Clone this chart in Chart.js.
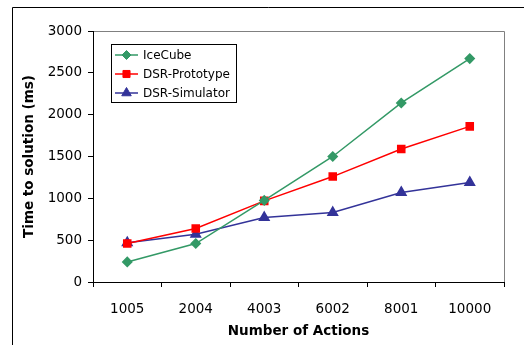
<!DOCTYPE html>
<html><head><meta charset="utf-8">
<script src="https://cdn.jsdelivr.net/npm/chart.js@4/dist/chart.umd.min.js"></script>
<style>html,body{margin:0;padding:0;background:#fff;}#wrap{width:524px;height:345px;position:relative;}</style>
</head><body><div id="wrap"><canvas id="c" width="524" height="345"></canvas></div>
<script>
const categories = ['1005','2004','4003','6002','8001','10000'];
const iceCube = [240, 460, 975, 1500, 2140, 2670];
const dsrPrototype = [460, 640, 970, 1260, 1590, 1860];
const dsrSimulator = [470, 570, 770, 830, 1070, 1190];
const yTicks = [0, 500, 1000, 1500, 2000, 2500, 3000];

const FONT = "'DejaVu Sans', sans-serif";

const framePlugin = {
  id: 'frame',
  beforeDraw(chart) {
    const ctx = chart.ctx;
    ctx.save();
    ctx.fillStyle = '#fff';
    ctx.fillRect(0, 0, chart.width, chart.height);
    ctx.strokeStyle = '#000';
    ctx.lineWidth = 1;
    ctx.beginPath();
    ctx.moveTo(12.5, chart.height);
    ctx.lineTo(12.5, 7.5);
    ctx.lineTo(chart.width, 7.5);
    ctx.stroke();
    const a = chart.chartArea;
    ctx.strokeStyle = '#808080';
    ctx.beginPath();
    ctx.moveTo(a.left, Math.round(a.top) + 0.5);
    ctx.lineTo(Math.round(a.right) + 0.5, Math.round(a.top) + 0.5);
    ctx.lineTo(Math.round(a.right) + 0.5, a.bottom);
    ctx.stroke();
    ctx.restore();
  }
};

const legendPlugin = {
  id: 'boxLegend',
  afterDatasetsDraw(chart) {
    const ctx = chart.ctx;
    const a = chart.chartArea;
    const x0 = Math.round(a.left) + 18, y0 = Math.round(a.top) + 13;
    const w = 125, h = 58;
    ctx.save();
    ctx.fillStyle = '#fff';
    ctx.fillRect(x0, y0, w, h);
    ctx.strokeStyle = '#000';
    ctx.lineWidth = 1;
    ctx.strokeRect(x0 + 0.5, y0 + 0.5, w, h);
    chart.data.datasets.forEach((ds, i) => {
      const cy = y0 + 11 + i * 19;
      ctx.strokeStyle = ds.borderColor;
      ctx.lineWidth = 1.5;
      ctx.beginPath();
      ctx.moveTo(x0 + 4, cy);
      ctx.lineTo(x0 + 27, cy);
      ctx.stroke();
      ctx.fillStyle = ds.pointBackgroundColor;
      ctx.strokeStyle = ds.pointBorderColor;
      ctx.lineWidth = 1;
      Chart.helpers.drawPoint(ctx, {
        pointStyle: ds.pointStyle, radius: ds.pointRadius, borderWidth: 1, rotation: 0
      }, x0 + 15.5, cy);
      ctx.fillStyle = '#000';
      ctx.font = '12px ' + FONT;
      ctx.textBaseline = 'middle';
      ctx.textAlign = 'left';
      ctx.fillText(ds.label, x0 + 32, cy + 1);
    });
    ctx.restore();
  }
};

new Chart(document.getElementById('c'), {
  type: 'line',
  data: {
    labels: categories,
    datasets: [
      { label: 'IceCube', data: iceCube, borderColor: '#339966', backgroundColor: '#339966',
        pointBackgroundColor: '#339966', pointBorderColor: '#339966', pointStyle: 'rectRot',
        pointRadius: 4.5, borderWidth: 1.5, tension: 0 },
      { label: 'DSR-Prototype', data: dsrPrototype, borderColor: '#ff0000', backgroundColor: '#ff0000',
        pointBackgroundColor: '#ff0000', pointBorderColor: '#ff0000', pointStyle: 'rect',
        pointRadius: 5, borderWidth: 1.5, tension: 0 },
      { label: 'DSR-Simulator', data: dsrSimulator, borderColor: '#333399', backgroundColor: '#333399',
        pointBackgroundColor: '#333399', pointBorderColor: '#333399', pointStyle: 'triangle',
        pointRadius: 5.5, borderWidth: 1.5, tension: 0 }
    ]
  },
  options: {
    responsive: false,
    animation: false,
    devicePixelRatio: 1,
    layout: { padding: { left: 0, top: 31, right: 20, bottom: 0 } },
    plugins: { legend: { display: false }, tooltip: { enabled: false } },
    scales: {
      x: {
        offset: true,
        grid: { offset: true, drawOnChartArea: false, drawTicks: true, tickLength: 5, color: '#000' },
        border: { color: '#000', width: 1 },
        ticks: { color: '#000', font: { family: FONT, size: 13.5 }, padding: 14, maxRotation: 0 },
        title: { display: true, text: 'Number of Actions', color: '#000',
          font: { family: FONT, size: 13.5, weight: 'bold' }, padding: { top: 4, bottom: 5 } },
        afterFit(s) { s.height = 63; }
      },
      y: {
        min: 0, max: 3000,
        afterBuildTicks(s) { s.ticks = yTicks.map(v => ({ value: v })); },
        grid: { drawOnChartArea: false, drawTicks: true, tickLength: 5, color: '#000' },
        border: { color: '#000', width: 1 },
        ticks: { color: '#000', font: { family: FONT, size: 13.5 }, padding: 6,
          callback: (v) => String(v) },
        title: { display: true, text: 'Time to solution (ms)', color: '#000',
          font: { family: FONT, size: 13.5, weight: 'bold' }, padding: { top: 21, bottom: 0 } },
        afterFit(s) { s.width = 93; }
      }
    }
  },
  plugins: [framePlugin, legendPlugin]
});
</script></body></html>
